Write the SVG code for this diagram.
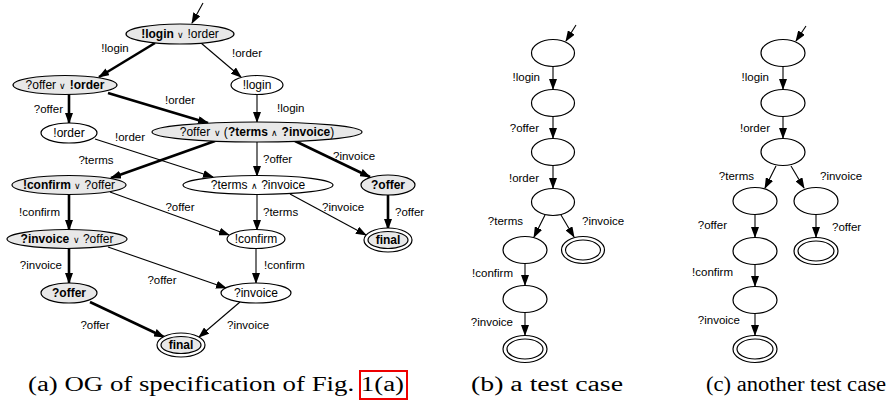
<svg xmlns="http://www.w3.org/2000/svg" width="891" height="402" viewBox="0 0 891 402">
  <defs>
    <marker id="arr" markerUnits="userSpaceOnUse" markerWidth="11" markerHeight="8" refX="10" refY="4" orient="auto">
      <path d="M0,0 L11,4 L0,8 z" fill="#000"/>
    </marker>
    <style>
      .n { fill: #fff; stroke: #000; stroke-width: 1.2; }
      .g { fill: #e8e8e8; stroke: #000; stroke-width: 1.2; }
      .nl { font-family: "Liberation Sans", Arial, sans-serif; font-size: 12px; text-anchor: middle; fill: #000; }
      .b { font-weight: bold; }
      .op { font-size: 9px; }
      .el { font-family: "Liberation Sans", Arial, sans-serif; font-size: 11.5px; fill: #000; }
      .s { text-anchor: start; }
      .e { text-anchor: end; }
      .m { text-anchor: middle; }
      .thin { stroke: #000; stroke-width: 1.1; fill: none; marker-end: url(#arr); }
      .thick { stroke: #000; stroke-width: 2.6; fill: none; marker-end: url(#arr); }
      .cap { font-family: "Liberation Serif", "DejaVu Serif", serif; font-size: 20px; fill: #000; }
    </style>
  </defs>

  <!-- ===== (a) operating guideline ===== -->
  <g id="edges-a">
    <line class="thin" x1="203" y1="3" x2="192" y2="23"/>
    <line class="thick" x1="155" y1="43" x2="99" y2="77"/>
    <line class="thin" x1="201" y1="43" x2="241" y2="77"/>
    <line class="thick" x1="69" y1="94" x2="69" y2="123"/>
    <line class="thick" x1="108" y1="93" x2="208" y2="123"/>
    <line class="thin" x1="257" y1="94" x2="257" y2="122"/>
    <line class="thin" x1="95" y1="139" x2="213" y2="177"/>
    <line class="thick" x1="215" y1="141" x2="111" y2="178"/>
    <line class="thin" x1="257" y1="142" x2="257" y2="176"/>
    <line class="thick" x1="295" y1="141" x2="370" y2="177"/>
    <line class="thick" x1="69" y1="194" x2="69" y2="230"/>
    <line class="thin" x1="110" y1="192" x2="229" y2="235"/>
    <line class="thin" x1="257" y1="194" x2="257" y2="230"/>
    <line class="thin" x1="290" y1="194" x2="366" y2="235"/>
    <line class="thick" x1="388" y1="195" x2="388" y2="229"/>
    <line class="thick" x1="69" y1="248" x2="69" y2="283"/>
    <line class="thin" x1="108" y1="247" x2="226" y2="288"/>
    <line class="thin" x1="256" y1="248" x2="256" y2="283"/>
    <line class="thick" x1="90" y1="302" x2="164" y2="337"/>
    <line class="thin" x1="240" y1="302" x2="199" y2="337"/>

    <text class="el m" x="115" y="52">!login</text>
    <text class="el m" x="247" y="57">!order</text>
    <text class="el e" x="63" y="113">?offer</text>
    <text class="el m" x="180" y="104">!order</text>
    <text class="el s" x="277" y="112">!login</text>
    <text class="el s" x="115" y="141">!order</text>
    <text class="el m" x="96" y="164">?terms</text>
    <text class="el s" x="263" y="163">?offer</text>
    <text class="el s" x="333" y="160">?invoice</text>
    <text class="el e" x="60" y="216">!confirm</text>
    <text class="el m" x="180" y="211">?offer</text>
    <text class="el s" x="263" y="216">?terms</text>
    <text class="el s" x="322" y="211">?invoice</text>
    <text class="el s" x="395" y="216">?offer</text>
    <text class="el e" x="62" y="269">?invoice</text>
    <text class="el m" x="162" y="284">?offer</text>
    <text class="el s" x="264" y="269">!confirm</text>
    <text class="el m" x="95" y="329">?offer</text>
    <text class="el s" x="227" y="329">?invoice</text>
  </g>

  <g id="a0">
    <ellipse class="g" cx="180" cy="34" rx="54" ry="10"/>
    <text class="nl" x="180" y="38"><tspan class="b">!login</tspan> <tspan class="op">∨</tspan> !order</text>
  </g>
  <g id="a1">
    <ellipse class="g" cx="65" cy="85" rx="52" ry="9.5"/>
    <text class="nl" x="65" y="89">?offer <tspan class="op">∨</tspan> <tspan class="b">!order</tspan></text>
  </g>
  <g id="a2">
    <ellipse class="n" cx="257" cy="85" rx="26" ry="9.5"/>
    <text class="nl" x="257" y="89">!login</text>
  </g>
  <g id="a3">
    <ellipse class="n" cx="69" cy="133" rx="28" ry="10"/>
    <text class="nl" x="69" y="137">!order</text>
  </g>
  <g id="a4">
    <ellipse class="g" cx="257" cy="132" rx="105" ry="10"/>
    <text class="nl" x="257" y="136">?offer <tspan class="op">∨</tspan> (<tspan class="b">?terms</tspan> <tspan class="op">∧</tspan> <tspan class="b">?invoice</tspan>)</text>
  </g>
  <g id="a5">
    <ellipse class="g" cx="69" cy="185" rx="57" ry="9.5"/>
    <text class="nl" x="69" y="189"><tspan class="b">!confirm</tspan> <tspan class="op">∨</tspan> ?offer</text>
  </g>
  <g id="a6">
    <ellipse class="n" cx="258" cy="185" rx="75" ry="9.5"/>
    <text class="nl" x="258" y="189">?terms <tspan class="op">∧</tspan> ?invoice</text>
  </g>
  <g id="a7">
    <ellipse class="g" cx="388" cy="185" rx="27" ry="10"/>
    <text class="nl b" x="388" y="189">?offer</text>
  </g>
  <g id="a8">
    <ellipse class="n" cx="256" cy="239" rx="29" ry="9.5"/>
    <text class="nl" x="256" y="243">!confirm</text>
  </g>
  <g id="a9">
    <ellipse class="g" cx="67" cy="239" rx="60" ry="9.5"/>
    <text class="nl" x="67" y="243"><tspan class="b">?invoice</tspan> <tspan class="op">∨</tspan> ?offer</text>
  </g>
  <g id="a10">
    <ellipse class="n" cx="388" cy="240" rx="24" ry="12"/>
    <ellipse class="g" cx="388" cy="240" rx="20" ry="8.5"/>
    <text class="nl b" x="388" y="244">final</text>
  </g>
  <g id="a11">
    <ellipse class="g" cx="69" cy="293" rx="28" ry="10"/>
    <text class="nl b" x="69" y="297">?offer</text>
  </g>
  <g id="a12">
    <ellipse class="n" cx="256" cy="293" rx="35" ry="10"/>
    <text class="nl" x="256" y="297">?invoice</text>
  </g>
  <g id="a13">
    <ellipse class="n" cx="181" cy="345" rx="24" ry="12"/>
    <ellipse class="g" cx="181" cy="345" rx="20" ry="8.5"/>
    <text class="nl b" x="181" y="349">final</text>
  </g>

  <!-- ===== (b) a test case ===== -->
  <g id="edges-b">
    <line class="thin" x1="576" y1="25" x2="566" y2="41"/>
    <line class="thin" x1="553" y1="67" x2="553" y2="89"/>
    <line class="thin" x1="553" y1="117" x2="553" y2="138"/>
    <line class="thin" x1="553" y1="166" x2="553" y2="188"/>
    <line class="thin" x1="545" y1="215" x2="534" y2="237"/>
    <line class="thin" x1="561" y1="215" x2="574" y2="237"/>
    <line class="thin" x1="525" y1="264" x2="525" y2="285"/>
    <line class="thin" x1="525" y1="313" x2="525" y2="335"/>
    <text class="el e" x="540" y="81">!login</text>
    <text class="el e" x="539" y="132">?offer</text>
    <text class="el e" x="539" y="182">!order</text>
    <text class="el e" x="523" y="225">?terms</text>
    <text class="el s" x="582" y="225">?invoice</text>
    <text class="el e" x="513" y="277">!confirm</text>
    <text class="el e" x="513" y="326">?invoice</text>
  </g>
  <g id="b1"><ellipse class="n" cx="553" cy="53" rx="21.5" ry="13.5"/></g>
  <g id="b2"><ellipse class="n" cx="553" cy="103" rx="21.5" ry="13.5"/></g>
  <g id="b3"><ellipse class="n" cx="553" cy="152" rx="21.5" ry="13.5"/></g>
  <g id="b4"><ellipse class="n" cx="553" cy="202" rx="21.5" ry="13.5"/></g>
  <g id="b5"><ellipse class="n" cx="525" cy="250" rx="22" ry="13.5"/></g>
  <g id="b6">
    <ellipse class="n" cx="583" cy="250" rx="21.5" ry="13.5"/>
    <ellipse class="n" cx="583" cy="250" rx="17.5" ry="10"/>
  </g>
  <g id="b7"><ellipse class="n" cx="525" cy="299" rx="22" ry="13.5"/></g>
  <g id="b8">
    <ellipse class="n" cx="525" cy="349" rx="22" ry="13.5"/>
    <ellipse class="n" cx="525" cy="349" rx="18" ry="10"/>
  </g>

  <!-- ===== (c) another test case ===== -->
  <g id="edges-c">
    <line class="thin" x1="806" y1="26" x2="796" y2="41"/>
    <line class="thin" x1="783" y1="67" x2="783" y2="89"/>
    <line class="thin" x1="783" y1="117" x2="783" y2="138"/>
    <line class="thin" x1="776" y1="166" x2="765" y2="188"/>
    <line class="thin" x1="791" y1="166" x2="804" y2="188"/>
    <line class="thin" x1="755" y1="215" x2="755" y2="237"/>
    <line class="thin" x1="816" y1="215" x2="816" y2="237"/>
    <line class="thin" x1="755" y1="264" x2="755" y2="286"/>
    <line class="thin" x1="755" y1="313" x2="755" y2="335"/>
    <text class="el e" x="769" y="81">!login</text>
    <text class="el e" x="770" y="132">!order</text>
    <text class="el e" x="754" y="180">?terms</text>
    <text class="el s" x="820" y="180">?invoice</text>
    <text class="el e" x="727" y="229">?offer</text>
    <text class="el s" x="832" y="231">?offer</text>
    <text class="el e" x="733" y="276">!confirm</text>
    <text class="el e" x="740" y="324">?invoice</text>
  </g>
  <g id="c1"><ellipse class="n" cx="783" cy="53" rx="22" ry="13.5"/></g>
  <g id="c2"><ellipse class="n" cx="783" cy="103" rx="22" ry="13.5"/></g>
  <g id="c3"><ellipse class="n" cx="783" cy="152" rx="22" ry="13.5"/></g>
  <g id="c4"><ellipse class="n" cx="755" cy="201" rx="22" ry="13.5"/></g>
  <g id="c5"><ellipse class="n" cx="816" cy="201" rx="22" ry="13.5"/></g>
  <g id="c6">
    <ellipse class="n" cx="816" cy="251" rx="22" ry="13.5"/>
    <ellipse class="n" cx="816" cy="251" rx="18" ry="10"/>
  </g>
  <g id="c7"><ellipse class="n" cx="755" cy="251" rx="22" ry="13.5"/></g>
  <g id="c8"><ellipse class="n" cx="755" cy="300" rx="22" ry="13.5"/></g>
  <g id="c9">
    <ellipse class="n" cx="755" cy="349" rx="22" ry="13.5"/>
    <ellipse class="n" cx="755" cy="349" rx="18" ry="10"/>
  </g>

  <!-- ===== captions ===== -->
  <g id="captions">
    <text class="cap" x="28" y="391" textLength="376" lengthAdjust="spacingAndGlyphs">(a) OG of specification of Fig. 1(a)</text>
    <rect x="360" y="371" width="47" height="28" fill="none" stroke="#e00" stroke-width="2"/>
    <text class="cap" x="471" y="391" textLength="152" lengthAdjust="spacingAndGlyphs">(b) a test case</text>
    <text class="cap" x="706" y="391" textLength="180" lengthAdjust="spacingAndGlyphs">(c) another test case</text>
  </g>
</svg>
